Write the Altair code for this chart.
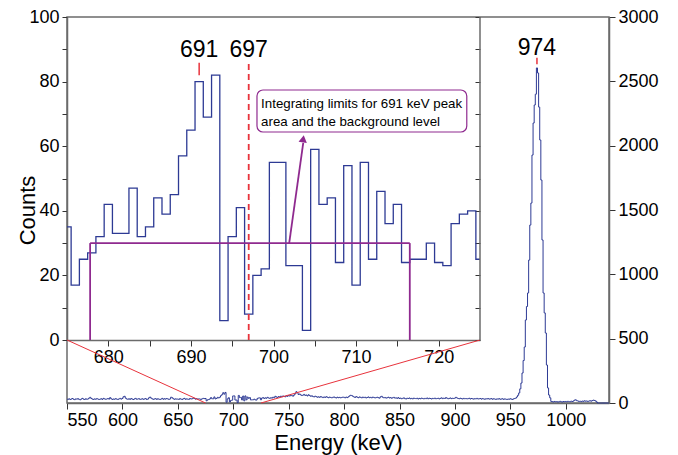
import altair as alt
import pandas as pd

# ---------------- data ----------------
# inset: 1-keV bins, 675..725
inset_energy = list(range(675, 726))
inset_counts = [35, 17, 25, 27, 32, 42, 33, 33, 47, 32,
                35, 44, 39, 45, 57, 65, 80, 69, 82, 6,
                32, 41, 8, 20, 22, 55, 55, 23, 23, 3,
                59, 42, 44, 24, 54, 17, 55, 25, 46, 36,
                42, 24, 25, 25, 30, 24, 23, 36, 39, 40,
                25]

# main spectrum: 1-keV bins, 550..1039
seg_550 = [30, 28, 33, 27, 31, 35, 29, 26, 32, 30, 34, 28, 25, 31, 36, 30, 27, 33, 29, 31,
           38, 44, 35, 30, 28, 32, 29, 34, 31, 27, 30, 33, 28, 36, 32, 29, 31, 35, 30, 42,
           33, 28, 31, 29, 34, 30, 27, 32, 36, 30]
seg_600 = [35, 48, 52, 38, 31, 29, 33, 28, 35, 30, 27, 32, 36, 29, 31, 34, 28, 30, 33, 29,
           31, 35, 27, 30, 40, 46, 38, 32, 29, 31, 34, 28, 33, 30, 27, 31, 36, 29, 33, 30,
           35, 32, 28, 31, 45, 41, 33, 29, 32, 30]
seg_650 = [31, 28, 34, 30, 27, 33, 36, 29, 32, 30, 28, 35, 31, 33, 38, 36, 30, 34, 29, 32,
           31, 27, 33, 36, 34]
seg_726 = [38, 42, 35, 40, 37, 44, 39, 36, 41, 38, 45, 40, 52, 47, 43, 50, 46, 53, 49, 55,
           51, 48, 56, 52, 58, 54, 60, 57, 53, 62, 72, 88, 80, 66, 70, 63, 58, 61, 67, 59,
           62, 55, 64, 58, 52, 56, 50, 47, 53, 49, 45, 48, 44, 50, 46, 42, 47, 43, 49, 45,
           41, 46, 43, 40, 44, 47, 42, 39, 45, 41, 44, 40, 43, 46]
seg_800 = [44, 40, 46, 42, 48, 55, 60, 58, 52, 47, 43, 50, 45, 41, 47, 44, 40, 46, 42, 45,
           39, 43, 47, 41, 44, 40, 46, 43, 39, 42, 45, 41, 38, 48, 52, 44, 40, 43, 38, 41,
           45, 39, 42, 37, 41, 44, 38, 40, 36, 42]
seg_850 = [35, 38, 33, 36, 40, 34, 31, 37, 35, 39, 33, 36, 32, 38, 35, 34, 37, 31, 36, 33,
           38, 35, 32, 36, 34, 39, 33, 37, 35, 31, 36, 34, 38, 33, 35, 37, 32, 36, 40, 34,
           38, 35, 42, 37, 33, 36, 39, 34, 37, 35]
seg_900 = [38, 44, 39, 35, 33, 37, 34, 31, 36, 33, 35, 32, 34, 37, 31, 35, 33, 30, 34, 32,
           36, 31, 33, 35, 30, 34, 32, 29, 33, 31, 35, 30, 32, 34, 29, 33, 31, 28, 32, 30,
           34, 29, 31, 33, 28, 32, 30, 27, 31, 29, 33, 30, 28, 32, 35, 38]
seg_956 = [47, 60, 78, 110, 155, 233, 330, 435, 645, 750, 855, 1111, 1383, 1554, 1927, 2176,
           2316, 2400, 2604, 2565, 2300, 2044, 1733, 1267, 855, 700, 544, 295, 117, 62, 40, 12]
seg_988 = [10, 8, 12, 9, 11, 7, 10, 13, 9, 8, 11, 10, 12, 9, 13, 11, 10, 14, 12, 15,
           22, 25, 18, 16, 12, 14, 11, 15, 13, 17, 14, 16, 12, 15, 18, 14, 19, 22, 20, 16,
           8, 0, 0, 0, 0, 0, 0, 0, 0, 0, 0, 0]
spec_energy = list(range(550, 1040))
spec_counts = (seg_550 + seg_600 + seg_650 + inset_counts + seg_726 + seg_800 +
               seg_850 + seg_900 + seg_956 + seg_988)

main_x_ticks = list(range(550, 1001, 50))
main_y_ticks = list(range(0, 3001, 500))
inset_x_ticks = list(range(680, 721, 5))
inset_y_ticks = list(range(0, 101, 10))

peak_labels = ["691", "697"]
peak_positions = [691, 697]
main_peak = 974
callout_lines = ["Integrating limits for 691 keV peak", "area and the background level"]
int_low, int_high, bg_level = 677.8, 716.5, 30

# ---------------- layout ----------------
W, H = 542, 386
INSET_W, INSET_H = 413, 323
XMIN, XMAX = 550, 1039
YMAX = 3000

BLUE = "#2d3a94"
RED = "#e8333c"
PURPLE = "#8f2a8f"
FRAME = "#6b6b6b"
FONT = "Liberation Sans"


def mx():
    return alt.Scale(domain=[XMIN, XMAX], nice=False, zero=False)


def my():
    return alt.Scale(domain=[0, YMAX], nice=False, zero=False)


def ix():
    return alt.Scale(domain=[675, 725], range=[0, INSET_W], nice=False, zero=False)


def iy():
    return alt.Scale(domain=[0, 100], range=[INSET_H, 0], nice=False, zero=False)


spec_df = pd.DataFrame({"E": spec_energy, "C": spec_counts})
inset_df = pd.DataFrame({"E": inset_energy, "C": inset_counts})

layers = []

# ----- main spectrum with main axes -----
layers.append(alt.Chart(spec_df).mark_line(interpolate="step", color=BLUE, strokeWidth=1).encode(
    x=alt.X("E:Q", scale=mx(),
            axis=alt.Axis(orient="bottom", values=main_x_ticks, title="Energy (keV)", format="d",
                          tickSize=6, labelPadding=2, titlePadding=3, titleFontSize=22)),
    y=alt.Y("C:Q", scale=my(),
            axis=alt.Axis(orient="right", values=main_y_ticks, title=None, format="d",
                          tickSize=6, labelPadding=3)),
))

# zoom connector lines (main coordinates)
corner_y = YMAX * (H - INSET_H) / H
corner_xr = XMIN + (XMAX - XMIN) * INSET_W / W
zoom_df = pd.DataFrame({
    "x1": [XMIN, corner_xr], "y1": [corner_y, corner_y],
    "x2": [675, 725], "y2": [0, 0],
})
layers.append(alt.Chart(zoom_df).mark_rule(color=RED, strokeWidth=1).encode(
    x=alt.X("x1:Q", scale=mx(), axis=None), x2="x2:Q",
    y=alt.Y("y1:Q", scale=my(), axis=None), y2="y2:Q",
))

layers.append(alt.Chart(pd.DataFrame({"x": [main_peak], "y": [2633], "y2": [2683]})).mark_rule(
    color=RED, strokeWidth=1.5).encode(
    x=alt.X("x:Q", scale=mx(), axis=None),
    y=alt.Y("y:Q", scale=my(), axis=None), y2="y2:Q",
))
layers.append(alt.Chart(pd.DataFrame({"x": [main_peak], "y": [2707], "t": [str(main_peak)]})).mark_text(
    font=FONT, fontSize=23, baseline="alphabetic", align="center", color="black").encode(
    x=alt.X("x:Q", scale=mx(), axis=None),
    y=alt.Y("y:Q", scale=my(), axis=None), text="t:N",
))

# ----- inset -----
layers.append(alt.Chart(inset_df).mark_line(interpolate="step", color=BLUE, strokeWidth=1.3).encode(
    x=alt.X("E:Q", scale=ix(),
            axis=alt.Axis(orient="bottom", offset=-(H - INSET_H), values=inset_x_ticks,
                          labelExpr="datum.value % 10 === 0 ? datum.label : ''",
                          title=None, tickSize=6, labelPadding=2)),
    y=alt.Y("C:Q", scale=iy(),
            axis=alt.Axis(orient="left", values=inset_y_ticks,
                          labelExpr="datum.value % 20 === 0 ? datum.label : ''",
                          title="Counts", tickSize=5, labelPadding=3, titleFontSize=22,
                          titleX=-40, titleY=H / 2, titleAlign="center",
                          titleBaseline="middle", titleAngle=270)),
))

purple_df = pd.DataFrame({
    "x": [int_low, int_high, int_low], "x2": [int_low, int_high, int_high],
    "y": [0, 0, bg_level], "y2": [bg_level, bg_level, bg_level],
})
layers.append(alt.Chart(purple_df).mark_rule(color=PURPLE, strokeWidth=1.8).encode(
    x=alt.X("x:Q", scale=ix(), axis=None), x2="x2:Q",
    y=alt.Y("y:Q", scale=iy(), axis=None), y2="y2:Q",
))

layers.append(alt.Chart(pd.DataFrame({"x": [697], "y": [0], "y2": [86]})).mark_rule(
    color=RED, strokeWidth=1.8, strokeDash=[6, 4]).encode(
    x=alt.X("x:Q", scale=ix(), axis=None),
    y=alt.Y("y:Q", scale=iy(), axis=None), y2="y2:Q",
))
layers.append(alt.Chart(pd.DataFrame({"x": [691], "y": [82], "y2": [85.8]})).mark_rule(
    color=RED, strokeWidth=1.5).encode(
    x=alt.X("x:Q", scale=ix(), axis=None),
    y=alt.Y("y:Q", scale=iy(), axis=None), y2="y2:Q",
))
layers.append(alt.Chart(pd.DataFrame({"x": peak_positions, "y": [87.5, 87.5], "t": peak_labels})).mark_text(
    font=FONT, fontSize=23, baseline="alphabetic", align="center", color="black").encode(
    x=alt.X("x:Q", scale=ix(), axis=None),
    y=alt.Y("y:Q", scale=iy(), axis=None), text="t:N",
))

layers.append(alt.Chart(pd.DataFrame({"x": [698.0], "x2": [723.4], "y": [64.4], "y2": [77.4]})).mark_rect(
    fill="white", stroke=PURPLE, strokeWidth=1.2, cornerRadius=6).encode(
    x=alt.X("x:Q", scale=ix(), axis=None), x2="x2:Q",
    y=alt.Y("y:Q", scale=iy(), axis=None), y2="y2:Q",
))
layers.append(alt.Chart(pd.DataFrame({"x": [698.5, 698.5], "y": [71.8, 66.3], "t": callout_lines})).mark_text(
    font="Liberation Sans Narrow, " + FONT, fontSize=13.3, align="left", baseline="alphabetic",
    color="black").encode(
    x=alt.X("x:Q", scale=ix(), axis=None),
    y=alt.Y("y:Q", scale=iy(), axis=None), text="t:N",
))
layers.append(alt.Chart(pd.DataFrame({"x": [701.9], "y": [30], "x2": [703.6], "y2": [61]})).mark_rule(
    color=PURPLE, strokeWidth=1.8).encode(
    x=alt.X("x:Q", scale=ix(), axis=None), x2="x2:Q",
    y=alt.Y("y:Q", scale=iy(), axis=None), y2="y2:Q",
))
layers.append(alt.Chart(pd.DataFrame({"x": [703.6], "y": [62.3]})).mark_point(
    shape="triangle-up", filled=True, color=PURPLE, size=70, angle=8.5, opacity=1).encode(
    x=alt.X("x:Q", scale=ix(), axis=None),
    y=alt.Y("y:Q", scale=iy(), axis=None),
))

# inset right edge with inward ticks
layers.append(alt.Chart(pd.DataFrame({"x": [725], "y": [0], "y2": [100]})).mark_rule(
    color=FRAME, strokeWidth=1.5).encode(
    x=alt.X("x:Q", scale=ix(), axis=None),
    y=alt.Y("y:Q", scale=iy(),
            axis=alt.Axis(orient="right", offset=INSET_W - W - 5, values=inset_y_ticks,
                          labels=False, domain=False, title=None, tickSize=5)),
    y2="y2:Q",
))

chart = alt.layer(*layers).resolve_scale(
    x="independent", y="independent"
).resolve_axis(
    x="independent", y="independent"
).properties(
    width=W, height=H,
    autosize=alt.AutoSizeParams(type="none"),
    padding={"left": 59, "top": 9, "right": 61, "bottom": 52},
).configure_view(
    stroke=FRAME, strokeWidth=1.5
).configure_axis(
    grid=False, domainColor=FRAME, domainWidth=1.5, tickColor="#333333",
    labelFont=FONT, labelFontSize=18, labelColor="black",
    titleFont=FONT, titleFontSize=20, titleFontWeight="normal", titleColor="black",
)

chart.save("out.html", embed_options={"renderer": "svg", "actions": False})
